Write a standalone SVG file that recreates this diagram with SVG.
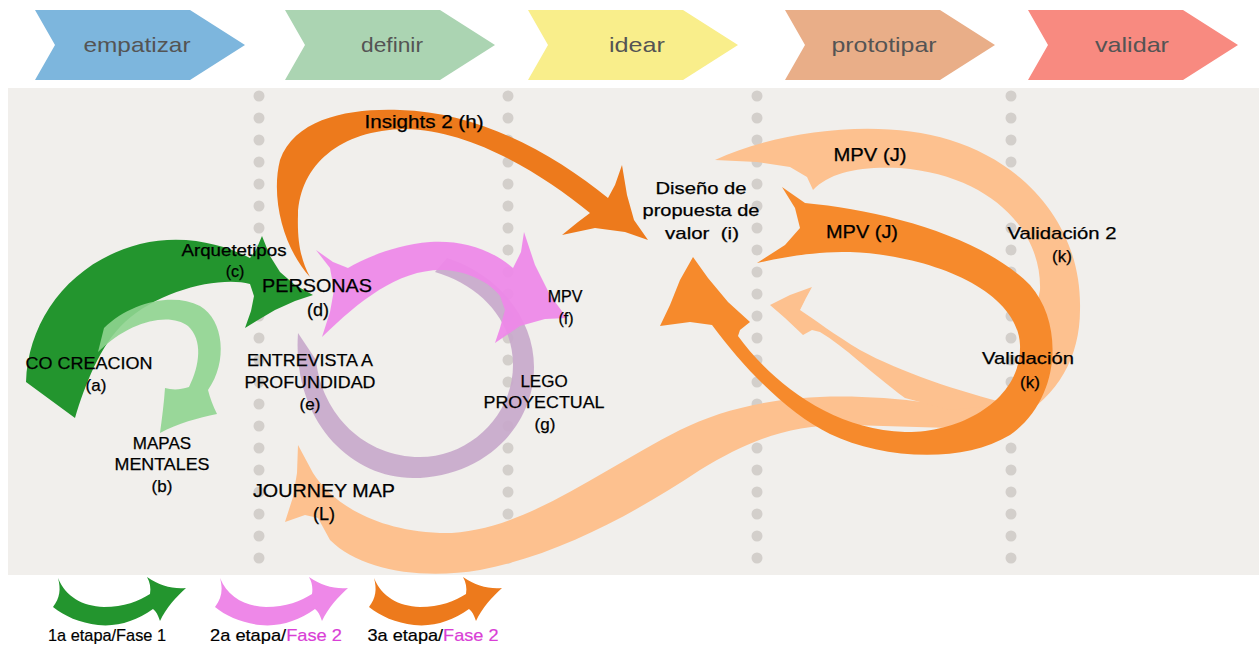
<svg xmlns="http://www.w3.org/2000/svg" xmlns:xlink="http://www.w3.org/1999/xlink" width="1259" height="646" viewBox="0 0 1259 646">
<style>
.ph{font-family:"Liberation Sans",Arial,sans-serif;font-size:21px;fill:#545454;text-anchor:middle}
.lb{font-family:"Liberation Sans",Arial,sans-serif;font-size:17px;fill:#000;stroke:#000;stroke-width:0.25px;text-anchor:middle}
.lg{font-family:"Liberation Sans",Arial,sans-serif;font-size:17px;fill:#000;stroke:#000;stroke-width:0.2px;text-anchor:middle}
.mag{fill:#d93fd6;stroke:#d93fd6}
.dot{fill:#d3cfcb}
</style>
<defs>
<g id="dotcol">
<circle cx="0" cy="96" r="5.5"/><circle cx="0" cy="118" r="5.5"/><circle cx="0" cy="140" r="5.5"/><circle cx="0" cy="162" r="5.5"/><circle cx="0" cy="184" r="5.5"/><circle cx="0" cy="206" r="5.5"/><circle cx="0" cy="228" r="5.5"/><circle cx="0" cy="250" r="5.5"/><circle cx="0" cy="272" r="5.5"/><circle cx="0" cy="294" r="5.5"/><circle cx="0" cy="316" r="5.5"/><circle cx="0" cy="338" r="5.5"/><circle cx="0" cy="360" r="5.5"/><circle cx="0" cy="382" r="5.5"/><circle cx="0" cy="404" r="5.5"/><circle cx="0" cy="426" r="5.5"/><circle cx="0" cy="448" r="5.5"/><circle cx="0" cy="470" r="5.5"/><circle cx="0" cy="492" r="5.5"/><circle cx="0" cy="514" r="5.5"/><circle cx="0" cy="536" r="5.5"/><circle cx="0" cy="558" r="5.5"/>
</g>
<path id="chev" d="M0,10 H155 L210,45 L155,80 H0 L20,45 Z"/>
<path id="legarrow" d="M58,578 C66,597 82,606 104,607 C124,607 139,601 150,594 C151,588 150,582 147,577 C160,586 172,589 186,588 C176,597 166,608 160,621 C158,615 156,611 153,609 C136,621 118,627 98,625 C80,623 64,616 53,607 C60,598 61,589 58,578 Z"/>
</defs>

<rect x="8" y="88" width="1251" height="487" fill="#f1efec"/>
<g id="dots" class="dot">
<use xlink:href="#dotcol" x="259"/>
<use xlink:href="#dotcol" x="508"/>
<use xlink:href="#dotcol" x="757"/>
<use xlink:href="#dotcol" x="1011"/>
</g>

<g id="phases">
<g id="phase-empatizar"><use xlink:href="#chev" x="35" fill="#7db6dd"/><text class="ph" x="137" y="52" textLength="107" lengthAdjust="spacingAndGlyphs">empatizar</text></g>
<g id="phase-definir"><use xlink:href="#chev" x="285" fill="#abd4b2"/><text class="ph" x="392" y="52" textLength="62" lengthAdjust="spacingAndGlyphs">definir</text></g>
<g id="phase-idear"><use xlink:href="#chev" x="528" fill="#f9ee8b"/><text class="ph" x="637" y="52" textLength="56" lengthAdjust="spacingAndGlyphs">idear</text></g>
<g id="phase-prototipar"><use xlink:href="#chev" x="785" fill="#e9ae88"/><text class="ph" x="884" y="52" textLength="105" lengthAdjust="spacingAndGlyphs">prototipar</text></g>
<g id="phase-validar"><use xlink:href="#chev" x="1028" fill="#f88a80"/><text class="ph" x="1132" y="52" textLength="74" lengthAdjust="spacingAndGlyphs">validar</text></g>
</g>

<g id="connectors">
<!-- peach main band: MPV (J) -> Validacion 2 -> Journey map -->
<path id="c-peach" fill="#fdc18f" d="M715,160 C780,130 880,118 950,140 C1030,165 1082,230 1080,310 C1080,365 1050,410 990,432 L950,428 L850,425 C790,424 750,440 700,470 C640,510 560,555 480,570 C420,580 360,570 330,540 L318,518 L305,515 L285,522 L293,497 L297,473 L298,445 L313,473 C330,500 370,530 440,533 C520,535 600,470 680,430 C740,400 820,388 930,403 L970,406 L1000,405 L1018,392 L1026,365 L1032,330 L1040,290 C1042,230 990,175 900,168 C860,166 830,172 813,190 L807,177 L790,167 L757,162 Z"/>
<!-- peach branch to Diseno -->
<path id="c-peach-branch" fill="#fdc18f" d="M1010,404 C960,392 900,372 860,350 C835,335 815,320 800,310 L806,298 L812,287 L790,295 L770,305 L785,318 L803,335 L812,330 L820,332 C845,347 870,372 905,398 L950,410 Z"/>
<!-- dark orange loop: MPV (J) -> Validacion -> Diseno -->
<path id="c-orange-loop" fill="#f68a2c" d="M782,187 L805,203 C880,210 980,235 1030,285 C1065,325 1060,400 1010,435 C960,465 880,458 830,434 C790,415 745,370 712,325 L690,322 L660,326 L670,305 L680,280 L693,257 L708,278 L728,302 L750,322 L740,330 L738,336 C770,380 830,430 905,432 C960,433 1022,400 1020,345 C1018,290 930,255 850,252 C810,252 785,257 757,263 L785,245 L800,228 L795,208 Z"/>
<!-- purple loop: entrevista -> lego -->
<path id="c-purple" fill="#c8a9cb" opacity="0.92" d="M298,333 C292,420 350,478 413,478 C480,478 534,430 534,367 C534,320 500,275 447,258 L435,272 C480,285 513,320 513,365 C513,415 470,457 420,457 C365,457 322,415 316,360 Z"/>
<!-- pink: personas -> MPV (f) -->
<path id="c-pink" fill="#ee88e8" opacity="0.93" d="M316,250 L330,268 L334,290 L330,312 L322,337 C360,300 400,268 445,270 C470,272 490,283 500,296 L505,310 L500,328 L495,343 L520,326 L545,319 L567,318 L550,295 L535,265 L524,232 L521,252 L513,268 C490,248 460,240 430,242 C395,245 365,258 348,268 L333,262 Z"/>
<!-- dark green: co creacion -> personas -->
<path id="c-green" fill="#23952e" d="M26,382 C28,320 70,262 140,244 C185,233 225,245 250,258 L256,250 L262,236 L270,256 L280,272 L295,285 L313,295 L295,301 L275,310 L258,320 L245,328 L251,311 L254,296 L250,284 C220,276 160,290 125,322 C100,345 85,385 75,418 Z"/>
<!-- light green: co creacion -> mapas mentales -->
<path id="c-lightgreen" fill="#8fd490" opacity="0.9" d="M104,328 C130,303 172,292 200,306 C224,320 228,362 208,390 C210,398 213,406 217,414 C198,418 178,423 160,433 C162,418 164,403 165,388 C172,390 180,390 189,387 C200,365 203,340 188,326 C170,312 130,320 98,352 Z"/>
<!-- orange: personas -> diseno (insights 2) -->
<path id="c-orange-h" fill="#ed7a1c" d="M310,277 C285,250 270,200 280,160 C295,118 350,108 400,110 C480,112 555,155 608,198 L615,185 L622,165 L627,195 L634,220 L648,240 L625,232 L595,228 L562,235 L578,222 L590,213 C540,172 470,130 405,129 C340,130 300,165 298,215 C297,245 302,262 310,277 Z"/>
</g>

<g id="node-a"><text class="lb" x="89" y="369" textLength="127" lengthAdjust="spacingAndGlyphs">CO CREACION</text><text class="lb" x="96" y="391">(a)</text></g>
<g id="node-b"><text class="lb" x="162" y="449">MAPAS</text><text class="lb" x="162" y="470" textLength="95" lengthAdjust="spacingAndGlyphs">MENTALES</text><text class="lb" x="162" y="492">(b)</text></g>
<g id="node-c"><text class="lb" style="font-size:16px" x="234" y="256" textLength="105" lengthAdjust="spacingAndGlyphs">Arquetetipos</text><text class="lb" style="font-size:16px" x="235" y="277">(c)</text></g>
<g id="node-d"><text class="lb" style="font-size:18px" x="317" y="292" textLength="110" lengthAdjust="spacingAndGlyphs">PERSONAS</text><text class="lb" style="font-size:18px" x="318" y="316">(d)</text></g>
<g id="node-e"><text class="lb" x="310" y="366" textLength="126" lengthAdjust="spacingAndGlyphs">ENTREVISTA A</text><text class="lb" x="310" y="388" textLength="131" lengthAdjust="spacingAndGlyphs">PROFUNDIDAD</text><text class="lb" x="310" y="410">(e)</text></g>
<g id="node-f"><text class="lb" style="font-size:16px" x="565" y="302">MPV</text><text class="lb" style="font-size:16px" x="566" y="324">(f)</text></g>
<g id="node-g"><text class="lb" x="544" y="387">LEGO</text><text class="lb" x="544" y="408" textLength="121" lengthAdjust="spacingAndGlyphs">PROYECTUAL</text><text class="lb" x="545" y="430">(g)</text></g>
<g id="node-h"><text class="lb" style="font-size:19px" x="424" y="128" textLength="119" lengthAdjust="spacingAndGlyphs">Insights 2 (h)</text></g>
<g id="node-i"><text class="lb" x="701" y="194" textLength="91" lengthAdjust="spacingAndGlyphs">Diseño de</text><text class="lb" x="701" y="216" textLength="117" lengthAdjust="spacingAndGlyphs">propuesta de</text><text class="lb" x="702" y="239" textLength="74" lengthAdjust="spacingAndGlyphs">valor&#160; (i)</text></g>
<g id="node-j1"><text class="lb" style="font-size:18px" x="870" y="161" textLength="73" lengthAdjust="spacingAndGlyphs">MPV (J)</text></g>
<g id="node-j2"><text class="lb" style="font-size:18px" x="862" y="238" textLength="72" lengthAdjust="spacingAndGlyphs">MPV (J)</text></g>
<g id="node-k2"><text class="lb" x="1062" y="239" textLength="109" lengthAdjust="spacingAndGlyphs">Validación 2</text><text class="lb" x="1062" y="262">(k)</text></g>
<g id="node-k1"><text class="lb" x="1028" y="364" textLength="92" lengthAdjust="spacingAndGlyphs">Validación</text><text class="lb" x="1030" y="388">(k)</text></g>
<g id="node-l"><text class="lb" style="font-size:18px" x="324" y="497" textLength="142" lengthAdjust="spacingAndGlyphs">JOURNEY MAP</text><text class="lb" style="font-size:18px" x="324" y="520">(L)</text></g>

<g id="legend">
<g id="legend-1"><use xlink:href="#legarrow" fill="#23952e"/><text class="lg" x="107" y="641" textLength="118" lengthAdjust="spacingAndGlyphs">1a etapa/Fase 1</text></g>
<g id="legend-2"><use xlink:href="#legarrow" x="162" fill="#ee88e8"/><text class="lg" x="276" y="641" textLength="132" lengthAdjust="spacingAndGlyphs">2a etapa/<tspan class="mag">Fase 2</tspan></text></g>
<g id="legend-3"><use xlink:href="#legarrow" x="316" fill="#ed7a1c"/><text class="lg" x="433" y="641" textLength="131" lengthAdjust="spacingAndGlyphs">3a etapa/<tspan class="mag">Fase 2</tspan></text></g>
</g>
</svg>
